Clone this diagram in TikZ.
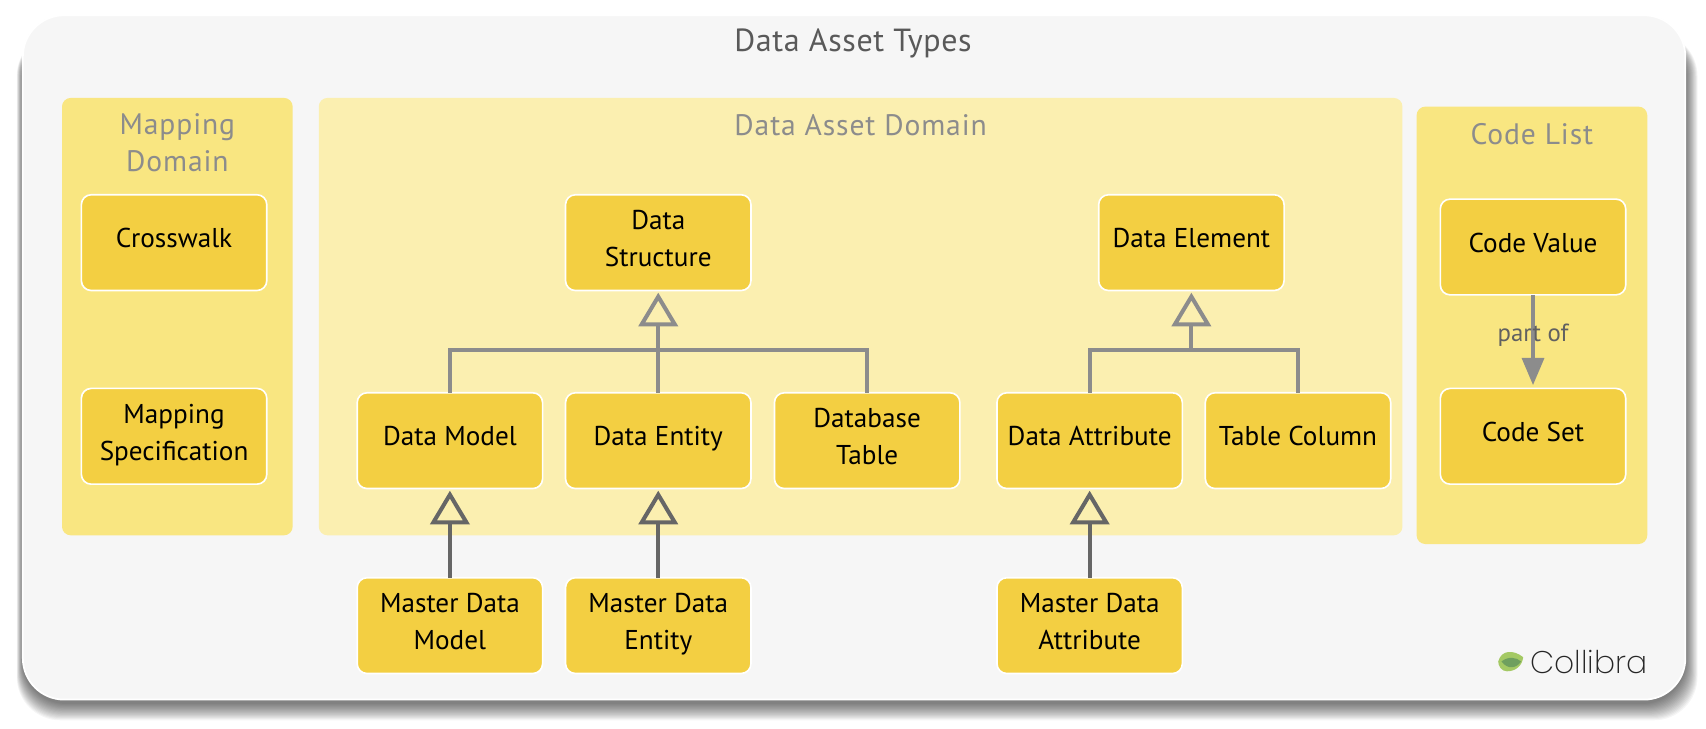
\documentclass[tikz,border=0pt]{standalone}
\usepackage{fontspec}
\setmainfont{PT Sans}
\newfontfamily\logofont{Poppins ExtraLight}
\usetikzlibrary{arrows.meta}
\definecolor{panelbg}{HTML}{F6F6F6}
\definecolor{grpstrong}{HTML}{F9E681}
\definecolor{grplight}{HTML}{FBEFB0}
\definecolor{boxfill}{HTML}{F3CF42}
\definecolor{linegrey}{HTML}{8C8C8C}
\definecolor{linedark}{HTML}{666666}
\newcommand\lift[1]{\raisebox{-2.0pt}[0pt][0pt]{\begin{tabular}[c]{@{}c@{}}#1\end{tabular}}}
\tikzset{
  x=.5pt,y=-.5pt,
  assetbox/.style={draw=white,line width=.75pt,fill=boxfill,rounded corners=4.5pt,
    minimum width=85.2pt,minimum height=44pt,inner sep=0pt,outer sep=0pt,
    font=\fontsize{12.5}{17}\selectfont,text=black},
  grouppanel/.style={rounded corners=4pt},
  grouptitle/.style={font=\fontsize{13.6}{17}\selectfont\addfontfeatures{LetterSpace=3},text=linegrey,align=center,inner sep=0pt},
  treeline/.style={draw=linegrey,line width=1.85pt},
  isa/.style={line width=1.85pt,-{Triangle[open,length=15.5pt,width=18pt,line width=1.85pt]},shorten >=1pt},
  partof/.style={draw=linegrey,line width=1.85pt,-{Triangle[length=12.5pt,width=10pt]},shorten >=1.5pt},
}
\begin{document}
\begin{tikzpicture}
\useasboundingbox (0,0) rectangle (1568,670);
\fill[white] (0,0) rectangle (1568,670);
% shadow
\foreach \e in {16,15,...,1}{
  \fill[black,opacity=.04,rounded corners=20pt] ({21-.35*\e},30) rectangle ({1549+.7*\e},{646+\e});
}
% main panel
\fill[draw=white,line width=.8pt,fill=panelbg,rounded corners=19pt] (21,14) rectangle (1549,643);
\node[font=\fontsize{14.7}{17}\selectfont\addfontfeatures{LetterSpace=2},text=black!65,inner sep=0pt] (title) at (784,40) {Data Asset Types};
% group panels
\fill[grouppanel,grpstrong] (57,90) rectangle (269,492);
\fill[grouppanel,grplight] (293,90) rectangle (1289,492);
\fill[grouppanel,grpstrong] (1302,98) rectangle (1514,500);
\node[grouptitle] (tmap) at (163,131) {Mapping\\Domain};
\node[grouptitle] (tasset) at (791,115) {Data Asset Domain};
\node[grouptitle] (tcode) at (1408,123) {Code List};
% boxes
\node[assetbox] (cw)  at (160,223) {\lift{Crosswalk}};
\node[assetbox] (ms)  at (160,401) {\lift{Mapping\\Specification}};
\node[assetbox] (ds)  at (605,223) {\lift{Data\\Structure}};
\node[assetbox] (el)  at (1095,223) {\lift{Data Element}};
\node[assetbox] (dm)  at (413.5,405) {\lift{Data Model}};
\node[assetbox] (en)  at (605,405) {\lift{Data Entity}};
\node[assetbox] (db)  at (797,405) {\lift{Database\\Table}};
\node[assetbox] (at)  at (1001.5,405) {\lift{Data Attribute}};
\node[assetbox] (tc)  at (1193,405) {\lift{Table Column}};
\node[assetbox] (mm)  at (413.5,575) {\lift{Master Data\\Model}};
\node[assetbox] (me)  at (605,575) {\lift{Master Data\\Entity}};
\node[assetbox] (ma)  at (1001.5,575) {\lift{Master Data\\Attribute}};
\node[assetbox] (cv)  at (1409,227) {\lift{Code Value}};
\node[assetbox] (cs)  at (1409,401) {\lift{Code Set}};
% junctions
\coordinate (jds) at (605,322);
\coordinate (jel) at (1095,322);
% tree connectors
\draw[treeline] (dm.north) |- (jds);
\draw[treeline] (db.north) |- (jds);
\draw[treeline,isa] (en.north) -- (ds.south);
\draw[treeline] (at.north) |- (jel);
\draw[treeline] (tc.north) |- (jel);
\draw[treeline,isa] (jel) -- (el.south);
% master connectors
\draw[isa,draw=linedark] (mm.north) -- (dm.south);
\draw[isa,draw=linedark] (me.north) -- (en.south);
\draw[isa,draw=linedark] (ma.north) -- (at.south);
% part of
\draw[partof] (cv.south) -- node[pos=.43,text=black!62,inner sep=0pt,font=\fontsize{11.4}{13}\selectfont] (pl) {part of} (cs.north);
% logo
\definecolor{leaflight}{HTML}{A4C964}
\definecolor{leafdark}{HTML}{6F9F5E}
\fill[leaflight] (1377,608) .. controls (1380,597) and (1391,597) .. (1400,604) .. controls (1399,612) and (1393,617) .. (1385,617) .. controls (1380,617) and (1377,612) .. (1377,608) -- cycle;
\fill[leafdark] (1380,608) .. controls (1386,603) and (1394,604) .. (1398,608) .. controls (1394,614) and (1386,616) .. (1380,608) -- cycle;
\node[font=\fontsize{14.4}{16}\selectfont\logofont,text=black!85,inner sep=0pt,anchor=west] (logo) at (1406,608) {Collibra};
\end{tikzpicture}
\end{document}
